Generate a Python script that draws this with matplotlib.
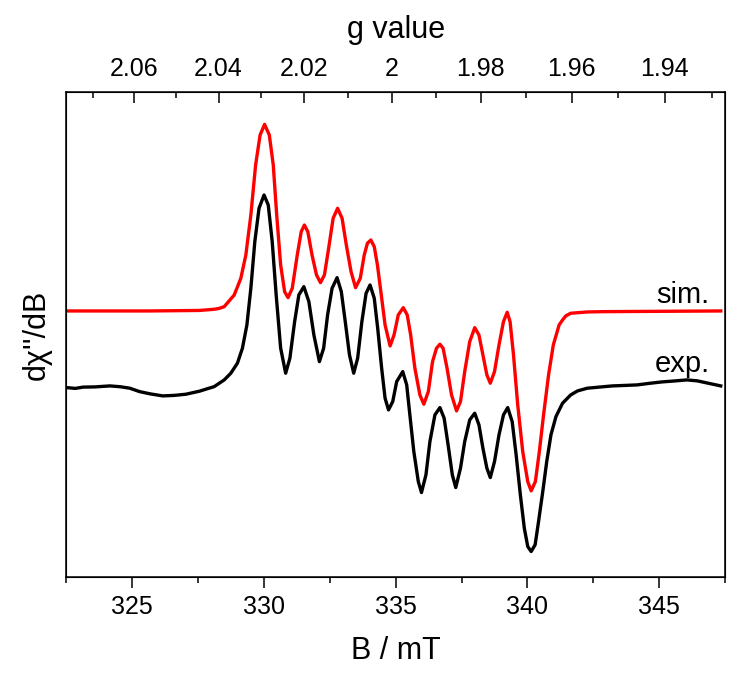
import numpy as np
import matplotlib
matplotlib.use('Agg')
import matplotlib.pyplot as plt

plt.rcParams['font.family'] = ['Liberation Sans', 'DejaVu Sans']

# experimental spectrum, B in mT, intensity in arb. units
b_exp = [322.53, 322.85, 323.15, 323.6, 324.16, 324.55, 324.92, 325.29, 325.7, 326.17,
         326.6, 327.05, 327.56, 328.12, 328.50, 328.75, 329.00, 329.19, 329.36, 329.51,
         329.66, 329.82, 330.01, 330.17, 330.32, 330.47, 330.64, 330.83, 330.99, 331.17,
         331.33, 331.52, 331.71, 331.90, 332.11, 332.27, 332.42, 332.59, 332.78, 332.94,
         333.09, 333.25, 333.41, 333.56, 333.72, 333.88, 334.03, 334.19, 334.32, 334.47,
         334.60, 334.73, 334.89, 335.04, 335.27, 335.42, 335.54, 335.69, 335.86, 335.98,
         336.15, 336.30, 336.49, 336.68, 336.84, 336.99, 337.15, 337.28, 337.46, 337.62,
         337.81, 338.00, 338.16, 338.31, 338.46, 338.59, 338.75, 338.92, 339.09, 339.25,
         339.42, 339.57, 339.73, 339.88, 340.01, 340.14, 340.29, 340.42, 340.58, 340.73,
         340.89, 341.08, 341.33, 341.64, 341.9, 342.27, 342.8, 343.22, 343.7, 344.16,
         344.6, 345.10, 345.6, 346.05, 346.45, 346.80, 347.33]
i_exp = [0.003, -0.005, 0.008, 0.01, 0.02, 0.012, -0.003, -0.037, -0.06, -0.08,
         -0.075, -0.063, -0.033, 0.013, 0.08, 0.147, 0.247, 0.397, 0.63, 0.997,
         1.463, 1.797, 1.93, 1.83, 1.463, 0.93, 0.397, 0.147, 0.297, 0.663,
         0.93, 1.013, 0.863, 0.53, 0.263, 0.397, 0.73, 0.997, 1.103, 0.963,
         0.663, 0.33, 0.147, 0.297, 0.663, 0.947, 1.03, 0.897, 0.597, 0.197,
         -0.103, -0.22, -0.137, 0.063, 0.163, 0.03, -0.27, -0.637, -0.937, -1.047,
         -0.87, -0.537, -0.27, -0.197, -0.303, -0.57, -0.87, -0.997, -0.803, -0.537,
         -0.32, -0.253, -0.37, -0.603, -0.803, -0.897, -0.737, -0.47, -0.27, -0.197,
         -0.337, -0.67, -1.07, -1.403, -1.587, -1.637, -1.57, -1.337, -1.037, -0.737,
         -0.47, -0.287, -0.153, -0.07, -0.03, -0.003, 0.01, 0.02, 0.025, 0.03,
         0.045, 0.06, 0.07, 0.08, 0.07, 0.05, 0.02]

# simulated spectrum
b_sim = [322.5, 325.67, 327.56, 328.12, 328.30, 328.50, 328.88, 329.13, 329.32, 329.51,
         329.69, 329.86, 330.03, 330.21, 330.36, 330.49, 330.64, 330.79, 330.92, 331.08,
         331.27, 331.42, 331.54, 331.67, 331.83, 332.00, 332.15, 332.30, 332.46, 332.63,
         332.80, 332.97, 333.13, 333.31, 333.48, 333.66, 333.81, 333.93, 334.06, 334.19,
         334.31, 334.44, 334.60, 334.79, 334.94, 335.10, 335.29, 335.44, 335.57, 335.73,
         335.92, 336.07, 336.24, 336.40, 336.55, 336.68, 336.80, 336.95, 337.12, 337.31,
         337.46, 337.62, 337.81, 338.00, 338.16, 338.31, 338.46, 338.59, 338.75, 338.92,
         339.09, 339.23, 339.34, 339.47, 339.63, 339.82, 340.01, 340.14, 340.30, 340.45,
         340.61, 340.80, 340.98, 341.20, 341.33, 341.45, 341.64, 342.27, 342.90, 347.33]
i_sim = [0.0, 0.0, 0.005, 0.017, 0.025, 0.043, 0.16, 0.327, 0.56, 0.96,
         1.46, 1.76, 1.867, 1.76, 1.46, 0.96, 0.46, 0.193, 0.133, 0.227,
         0.56, 0.793, 0.86, 0.793, 0.56, 0.36, 0.283, 0.36, 0.627, 0.927,
         1.027, 0.927, 0.66, 0.393, 0.233, 0.327, 0.56, 0.677, 0.71, 0.643,
         0.46, 0.193, -0.14, -0.35, -0.24, -0.04, 0.033, -0.04, -0.24, -0.573,
         -0.84, -0.933, -0.807, -0.507, -0.373, -0.333, -0.373, -0.573, -0.84, -1.0,
         -0.907, -0.607, -0.307, -0.167, -0.24, -0.44, -0.64, -0.723, -0.607, -0.34,
         -0.107, -0.013, -0.107, -0.44, -0.94, -1.407, -1.707, -1.8, -1.707, -1.407,
         -1.04, -0.64, -0.34, -0.14, -0.09, -0.05, -0.023, -0.01, -0.007, 0.0]
sim_offset = 0.77

g_major = [2.06, 2.04, 2.02, 2.00, 1.98, 1.96, 1.94]
g_minor = [2.07, 2.05, 2.03, 2.01, 1.99, 1.97, 1.95, 1.93]
hv_over_mub = 669.7  # mT, g = hv/(muB*B)

fig = plt.figure(figsize=(7.5, 6.77), dpi=100)
ax = fig.add_axes([0.088, 0.148, 0.879, 0.716])

ax.plot(b_exp, i_exp, color='black', lw=2.4, solid_joinstyle='round')
ax.plot(b_sim, np.array(i_sim) + sim_offset, color='#ff0000', lw=2.4,
        solid_joinstyle='round')

ax.set_xlim(322.5, 347.5)
ax.set_ylim(-1.89, 2.96)
ax.set_xticks([325, 330, 335, 340, 345])
ax.set_xticks(np.arange(322.5, 348, 5), minor=True)
ax.tick_params(axis='x', which='major', direction='out', length=8, width=1.1,
               labelsize=18, pad=5)
ax.tick_params(axis='x', which='minor', direction='out', length=4, width=1.1)
ax.set_yticks([])
for s in ax.spines.values():
    s.set_linewidth(1.1)
ax.set_xlabel('B / mT', fontsize=22, labelpad=12)
ax.set_ylabel("d\u03c7''/dB", fontsize=22, labelpad=10)

ax.text(346.9, 0.85, 'sim.', fontsize=21, ha='right', va='baseline')
ax.text(346.9, 0.16, 'exp.', fontsize=21, ha='right', va='baseline')

top = ax.twiny()
top.set_xlim(ax.get_xlim())
top.set_xticks([hv_over_mub / g for g in g_major])
top.set_xticklabels(['{:g}'.format(g) for g in g_major])
top.set_xticks([hv_over_mub / g for g in g_minor], minor=True)
top.tick_params(axis='x', which='major', direction='in', length=8, width=1.1,
                labelsize=18, pad=8)
top.tick_params(axis='x', which='minor', direction='in', length=4, width=1.1)
top.set_xlabel('g value', fontsize=22, labelpad=14)

fig.savefig('out.png', dpi=100)
